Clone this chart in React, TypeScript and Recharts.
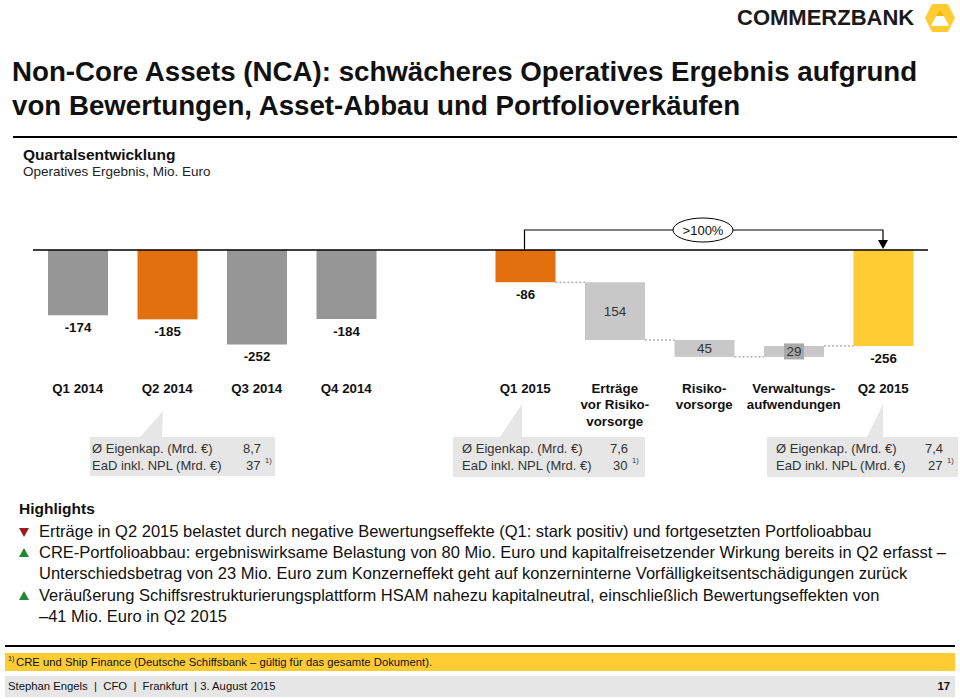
import { BarChart, Bar, XAxis, YAxis, ReferenceLine, LabelList } from 'recharts';

// Operatives Ergebnis NCA, Mio. Euro
const categories = [
  'Q1 2014',
  'Q2 2014',
  'Q3 2014',
  'Q4 2014',
  '',
  'Q1 2015',
  'Erträge\nvor Risiko-\nvorsorge',
  'Risiko-\nvorsorge',
  'Verwaltungs-\naufwendungen',
  'Q2 2015',
];
const values = [-174, -185, -252, -184, null, -86, -154, -45, 29, -256];
const kinds = ['total', 'total', 'total', 'total', 'gap', 'total', 'delta', 'delta', 'delta', 'total'];

const callouts = [
  { eigenkap: '8,7', ead: '37' },
  { eigenkap: '7,6', ead: '30' },
  { eigenkap: '7,4', ead: '27' },
];

const FONT = '"Liberation Sans", Arial, Helvetica, sans-serif';
const GAP = 29.5;
const barColors = ['#969696', '#E2700F', '#969696', '#969696', 'none', '#E2700F', '#C8C8C8', '#C8C8C8', '#C8C8C8', '#FFCC33'];

let running = 0;
const rows = categories.map((name, i) => {
  const v = values[i];
  const kind = kinds[i];
  if (v === null) return { name, kind, range: [0, 0] };
  let range: number[];
  if (kind === 'total') {
    range = [0, v];
    running = v;
  } else {
    range = [running, running + v];
    running += v;
  }
  return { name, kind, range };
});

function WaterfallBar(props: any) {
  const { x, y, width, height, index } = props;
  const kind = kinds[index];
  if (kind === 'gap') return null;
  const top = Math.min(y, y + height);
  const bottom = Math.max(y, y + height);
  const r = rows[index].range;
  let connector = null;
  const prevKind = kinds[index - 1];
  if (kind === 'delta' || (kind === 'total' && prevKind === 'delta')) {
    const level = kind === 'delta' ? r[0] : r[1];
    const ly = level === Math.max(r[0], r[1]) ? top : bottom;
    connector = (
      <line x1={x - GAP} x2={x} y1={ly} y2={ly} stroke="#8c8c8c" strokeWidth={1} strokeDasharray="2 2" />
    );
  }
  return (
    <g>
      <rect x={x} y={top} width={width} height={bottom - top} fill={barColors[index]} />
      {connector}
    </g>
  );
}

function ValueLabel(props: any) {
  const { x, y, width, height, index } = props;
  const kind = kinds[index];
  const v = values[index];
  if (kind === 'gap' || v === null) return null;
  const top = Math.min(y, y + height);
  const bottom = Math.max(y, y + height);
  const cx = x + width / 2;
  if (kind === 'total') {
    return (
      <text x={cx} y={bottom + 12} textAnchor="middle" dominantBaseline="central"
        fontFamily={FONT} fontSize={13.3} fontWeight="bold" fill="#111">
        {v}
      </text>
    );
  }
  const cy = (top + bottom) / 2;
  return (
    <g>
      {bottom - top < 14 && <rect x={cx - 10} y={cy - 8} width={20} height={16} fill="#A8A8A8" />}
      <text x={cx} y={cy} textAnchor="middle" dominantBaseline="central"
        fontFamily={FONT} fontSize={13.5} fill="#333">
        {Math.abs(v)}
      </text>
    </g>
  );
}

function CategoryTick(props: any) {
  const { x, y, payload } = props;
  const lines = String(payload.value).split('\n');
  return (
    <text x={x} y={y + 5} textAnchor="middle" fontFamily={FONT} fontSize={13.3} fontWeight="bold" fill="#111">
      {lines.map((l, i) => (
        <tspan key={i} x={x} y={y + 5 + i * 16.5} dominantBaseline="central">{l}</tspan>
      ))}
    </text>
  );
}

const calloutGeom = [
  { box: [90, 437, 185, 39], wedge: '163,411 140,437 162,437', tx: 92, vx: 243 },
  { box: [453, 437, 192, 40], wedge: '522,404 500,437 522,437', tx: 462, vx: 610 },
  { box: [767, 437, 191, 40], wedge: '883,404 867,437 883,437', tx: 776, vx: 925 },
];

function Callouts() {
  return (
    <svg width={960} height={699} style={{ position: 'absolute', left: 0, top: 0, pointerEvents: 'none' }}>
      {/* bracket Q1 2015 -> Q2 2015 */}
      <polyline points="524.5,250 524.5,230 673,230" fill="none" stroke="#000" strokeWidth={1.2} />
      <polyline points="733,230 883,230 883,242" fill="none" stroke="#000" strokeWidth={1.2} />
      <polygon points="878,240 888,240 883,249" fill="#000" />
      <ellipse cx={703} cy={230} rx={30} ry={12} fill="#fff" stroke="#000" strokeWidth={1} />
      <text x={703} y={230} textAnchor="middle" dominantBaseline="central" fontFamily={FONT} fontSize={13} fill="#111">
        &gt;100%
      </text>
      {calloutGeom.map((g, i) => (
        <g key={i}>
          <polygon points={g.wedge} fill="#E6E6E6" />
          <rect x={g.box[0]} y={g.box[1]} width={g.box[2]} height={g.box[3]} fill="#E6E6E6" />
          <text x={g.tx} y={g.box[1] + 11} dominantBaseline="central" fontFamily={FONT} fontSize={13} fill="#333">
            Ø Eigenkap. (Mrd. €)
          </text>
          <text x={g.vx} y={g.box[1] + 11} dominantBaseline="central" fontFamily={FONT} fontSize={13} fill="#333">
            {callouts[i].eigenkap}
          </text>
          <text x={g.tx} y={g.box[1] + 28} dominantBaseline="central" fontFamily={FONT} fontSize={13} fill="#333">
            EaD inkl. NPL (Mrd. €)
          </text>
          <text x={g.vx + 3} y={g.box[1] + 28} dominantBaseline="central" fontFamily={FONT} fontSize={13} fill="#333">
            {callouts[i].ead}
          </text>
          <text x={g.vx + 22} y={g.box[1] + 23} dominantBaseline="central" fontFamily={FONT} fontSize={7.5} fill="#333">
            1)
          </text>
        </g>
      ))}
      {/* logo */}
      <polygon points="925,18 932,4 948,4 955,18 948,32 932,32" fill="#FFCC33" />
      <polygon points="940,9 949,26 931,26" fill="#fff" />
      <polygon points="940,9 944,16 936,16" fill="#F2B800" />
    </svg>
  );
}

function Triangle({ up }: { up: boolean }) {
  return (
    <svg width={10} height={10} style={{ position: 'absolute', left: 19, top: 6 }}>
      {up ? <polygon points="5,0 10,9 0,9" fill="#1F8A2E" /> : <polygon points="0,1 10,1 5,10" fill="#A01C1C" />}
    </svg>
  );
}

const highlights = [
  { up: false, lines: ['Erträge in Q2 2015 belastet durch negative Bewertungseffekte (Q1: stark positiv) und fortgesetzten Portfolioabbau'] },
  {
    up: true,
    lines: [
      'CRE-Portfolioabbau: ergebniswirksame Belastung von 80 Mio. Euro und kapitalfreisetzender Wirkung bereits in Q2 erfasst –',
      'Unterschiedsbetrag von 23 Mio. Euro zum Konzerneffekt geht auf konzerninterne Vorfälligkeitsentschädigungen zurück',
    ],
  },
  {
    up: true,
    lines: [
      'Veräußerung Schiffsrestrukturierungsplattform HSAM nahezu kapitalneutral, einschließlich Bewertungseffekten von',
      '–41 Mio. Euro in Q2 2015',
    ],
  },
];

export default function App() {
  return (
    <div style={{ position: 'absolute', left: 0, top: 0, width: 960, height: 699, overflow: 'hidden', background: '#fff', fontFamily: FONT, color: '#111' }}>
      <div style={{ position: 'absolute', left: 737, top: 5, fontSize: 22, fontWeight: 'bold', lineHeight: '26px', color: '#1a1a1a' }}>
        COMMERZBANK
      </div>
      <div style={{ position: 'absolute', left: 12, top: 55, width: 948, fontSize: 27.7, fontWeight: 'bold', lineHeight: '34px', whiteSpace: 'nowrap' }}>
        Non-Core Assets (NCA): schwächeres Operatives Ergebnis aufgrund<br />
        von Bewertungen, Asset-Abbau und Portfolioverkäufen
      </div>
      <div style={{ position: 'absolute', left: 13, top: 136, width: 944, height: 2, background: '#000' }} />
      <div style={{ position: 'absolute', left: 23, top: 146, fontSize: 15.5, fontWeight: 'bold', lineHeight: '18px' }}>
        Quartalsentwicklung
      </div>
      <div style={{ position: 'absolute', left: 23, top: 164, fontSize: 13.5, lineHeight: '16px', color: '#222' }}>
        Operatives Ergebnis, Mio. Euro
      </div>

      <div style={{ position: 'absolute', left: 0, top: 200 }}>
        <BarChart width={960} height={250} data={rows} margin={{ top: 0, right: 32, left: 33, bottom: 0 }} barSize={60}>
          <XAxis dataKey="name" height={75} axisLine={false} tickLine={false} interval={0} tick={<CategoryTick />} />
          <YAxis hide domain={[-1000 / 3, 400 / 3]} allowDataOverflow />
          <Bar dataKey="range" isAnimationActive={false} shape={<WaterfallBar />}>
            <LabelList content={<ValueLabel />} />
          </Bar>
          <ReferenceLine y={0} stroke="#000" strokeWidth={1.5} />
        </BarChart>
      </div>

      <Callouts />

      <div style={{ position: 'absolute', left: 19, top: 500, fontSize: 15.5, fontWeight: 'bold', lineHeight: '18px' }}>
        Highlights
      </div>
      <div style={{ position: 'absolute', left: 0, top: 521, width: 960 }}>
        {highlights.map((h, i) => (
          <div key={i} style={{ position: 'relative' }}>
            <Triangle up={h.up} />
            {h.lines.map((l, j) => (
              <div key={j} style={{ paddingLeft: 39, fontSize: 16.5, lineHeight: '21.2px', color: '#111', whiteSpace: 'nowrap' }}>
                {l}
              </div>
            ))}
          </div>
        ))}
      </div>

      <div style={{ position: 'absolute', left: 5, top: 645, width: 950, height: 2, background: '#000' }} />
      <div style={{ position: 'absolute', left: 5, top: 653, width: 950, height: 18, background: '#FFCC33', fontSize: 11.3, lineHeight: '18px', color: '#111' }}>
        <span style={{ position: 'absolute', left: 3, top: -3, fontSize: 7 }}>1)</span>
        <span style={{ position: 'absolute', left: 11 }}>CRE und Ship Finance (Deutsche Schiffsbank – gültig für das gesamte Dokument).</span>
      </div>
      <div style={{ position: 'absolute', left: 5, top: 676, width: 950, height: 21, background: '#E6E6E6', fontSize: 11.3, lineHeight: '21px', color: '#111' }}>
        <span style={{ position: 'absolute', left: 3 }}>Stephan Engels&nbsp; | &nbsp;CFO&nbsp; | &nbsp;Frankfurt&nbsp; | 3. August 2015</span>
        <span style={{ position: 'absolute', right: 5, fontWeight: 'bold' }}>17</span>
      </div>
    </div>
  );
}
